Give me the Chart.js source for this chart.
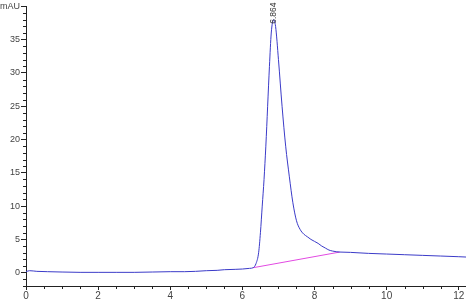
<!DOCTYPE html>
<html>
<head>
<meta charset="utf-8">
<script src="https://cdn.jsdelivr.net/npm/chart.js@4"></script>
<style>
  body { margin: 0; background: #fff; }
  canvas { display: block; }
</style>
</head>
<body>
<canvas id="canvas" width="466" height="299"></canvas>
<script>
// tempo de retenção (min) e sinal (mAU)
var retTime = [0, 0.1, 0.3, 0.6, 1, 1.5, 2, 2.5, 3, 3.5, 4, 4.4, 4.7, 5, 5.3, 5.5, 5.8, 6, 6.2, 6.3,
  6.38, 6.45, 6.5, 6.55, 6.6, 6.65, 6.7, 6.75, 6.8, 6.864, 6.92, 7, 7.1, 7.2, 7.3, 7.4, 7.5, 7.6,
  7.7, 7.8, 7.9, 8, 8.1, 8.2, 8.3, 8.4, 8.5, 8.6, 8.7, 9, 9.5, 10, 10.5, 11, 11.5, 12, 12.2];
var signal = [0.15, 0.3, 0.2, 0.15, 0.1, 0.05, 0.05, 0.05, 0.05, 0.1, 0.15, 0.15, 0.2, 0.3, 0.35, 0.45, 0.5, 0.55, 0.65, 0.75,
  1.4, 3, 6, 10, 14, 19, 25, 31, 36, 38, 37, 32, 25, 19, 14.5, 10.5, 7.8, 6.5,
  5.8, 5.4, 5, 4.7, 4.4, 4, 3.7, 3.4, 3.25, 3.15, 3.1, 3.05, 2.9, 2.8, 2.7, 2.6, 2.5, 2.4, 2.35];

// linha de base da integração
var baseTime = [6.3, 8.7];
var baseSignal = [0.75, 3.1];

var peakTime = 6.864;
var peakSignal = 38;
var peakLabel = '6.864';

var xTickValues = [0, 2, 4, 6, 8, 10, 12];
var yTickValues = [0, 5, 10, 15, 20, 25, 30, 35, 40];
var yUnit = 'mAU';

var toPoints = function(xs, ys) {
	var pts = [];
	for (var i = 0; i < xs.length; i++) pts.push({x: xs[i], y: ys[i]});
	return pts;
};

//ticks menores e rótulo do pico
var extras = {
	id: 'extras',
	afterDraw: function(chart) {
		var ctx = chart.ctx;
		var xs = chart.scales.x, ys = chart.scales.y;
		ctx.save();
		ctx.strokeStyle = '#222';
		ctx.lineWidth = 1;
		ctx.beginPath();
		for (var i = 0; i <= 24; i++) {
			if (i % 4 == 0) continue;
			var px = Math.round(xs.getPixelForValue(i / 2)) + 0.5;
			ctx.moveTo(px, ys.bottom);
			ctx.lineTo(px, ys.bottom + 3);
		}
		for (var j = -2; j <= 40; j++) {
			if (j % 5 == 0) continue;
			var py = Math.round(ys.getPixelForValue(j)) + 0.5;
			ctx.moveTo(xs.left, py);
			ctx.lineTo(xs.left - 3, py);
		}
		ctx.stroke();

		var lx = xs.getPixelForValue(peakTime);
		var ly = ys.getPixelForValue(peakSignal) + 4;
		ctx.translate(lx, ly);
		ctx.rotate(-Math.PI / 2);
		ctx.fillStyle = '#333';
		ctx.font = '8.5px "Liberation Sans", Arial, sans-serif';
		ctx.textAlign = 'left';
		ctx.textBaseline = 'middle';
		ctx.fillText(peakLabel, 0, 0);
		ctx.restore();
	}
};

var ctx = document.getElementById('canvas').getContext('2d');
window.chromChart = new Chart(ctx, {
	type: 'line',
	data: {
		datasets: [{
			label: 'sinal',
			data: toPoints(retTime, signal),
			borderColor: '#3b3bc8',
			borderWidth: 1,
			pointRadius: 0,
			cubicInterpolationMode: 'monotone'
		}, {
			label: 'linha de base',
			data: toPoints(baseTime, baseSignal),
			borderColor: '#e24ae2',
			borderWidth: 1,
			pointRadius: 0
		}]
	},
	plugins: [extras],
	options: {
		responsive: false,
		animation: false,
		layout: { padding: { top: 6, right: 0, left: 0, bottom: 0 } },
		plugins: {
			legend: { display: false },
			tooltip: { enabled: false }
		},
		scales: {
			x: {
				type: 'linear',
				min: 0,
				max: 12.2,
				afterBuildTicks: function(scale) {
					scale.ticks = xTickValues.map(function(v) { return {value: v}; });
				},
				afterFit: function(scale) { scale.height = 13; },
				grid: { drawOnChartArea: false, tickLength: 4, color: '#222' },
				border: { color: '#222' },
				ticks: {
					padding: 0,
					maxRotation: 0,
					color: '#444',
					font: { family: '"Liberation Sans", Arial, sans-serif', size: 10 }
				}
			},
			y: {
				type: 'linear',
				min: -2,
				max: 40,
				afterBuildTicks: function(scale) {
					scale.ticks = yTickValues.map(function(v) { return {value: v}; });
				},
				afterFit: function(scale) { scale.width = 26; },
				grid: { drawOnChartArea: false, tickLength: 5, color: '#222' },
				border: { color: '#222' },
				ticks: {
					padding: 1,
					color: '#444',
					font: { family: '"Liberation Sans", Arial, sans-serif', size: 9 },
					callback: function(v) { return v == 40 ? yUnit : v; }
				}
			}
		}
	}
});
</script>
</body>
</html>
